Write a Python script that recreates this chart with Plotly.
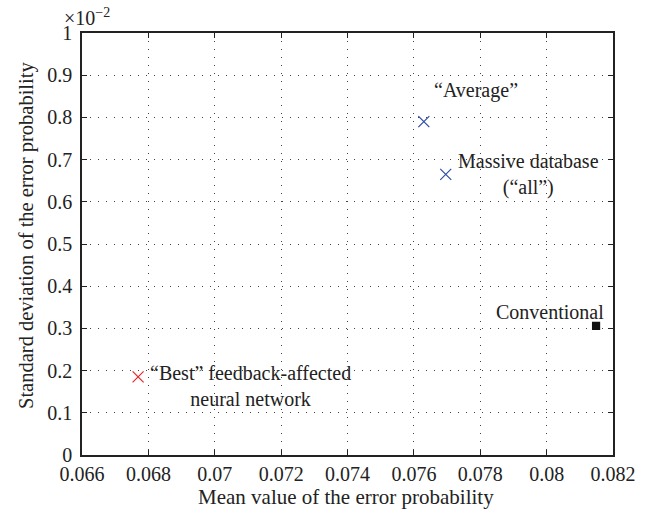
import plotly.graph_objects as go

# Data (y in units of 1e-2)
labels = ["“Best” feedback-affected<br>neural network", "“Average”", "Massive database<br>(“all”)", "Conventional"]
mean_err = [0.06769, 0.07630, 0.07696, 0.08149]
std_err = [0.185, 0.790, 0.665, 0.306]
colors = ["#e8262b", "#2f4ea6", "#2f4ea6", "#111111"]
symbols = ["x-thin", "x-thin", "x-thin", "square"]

x_ticks = [0.066, 0.068, 0.070, 0.072, 0.074, 0.076, 0.078, 0.080, 0.082]
x_ticktext = ["0.066", "0.068", "0.07", "0.072", "0.074", "0.076", "0.078", "0.08", "0.082"]
y_ticks = [0, 0.1, 0.2, 0.3, 0.4, 0.5, 0.6, 0.7, 0.8, 0.9, 1.0]
y_ticktext = ["0", "0.1", "0.2", "0.3", "0.4", "0.5", "0.6", "0.7", "0.8", "0.9", "1"]
x_title = "Mean value of the error probability"
y_title = "Standard deviation of the error probability"

FONT = "Liberation Serif"
TXT = "#222"
fig = go.Figure()
for i in range(len(labels)):
    sym = symbols[i]
    fig.add_trace(go.Scatter(
        x=[mean_err[i]], y=[std_err[i]], mode="markers",
        marker=dict(symbol=sym, size=11 if sym != "square" else 7, color=colors[i],
                    line=dict(width=1.2, color=colors[i])),
        showlegend=False, hoverinfo="skip"))

# text labels placement (offsets)
ann = [
    dict(xshift=10, yshift=-9, xanchor="left", yanchor="middle", align="center"),
    dict(xshift=8, yshift=31, xanchor="left", yanchor="middle", align="center"),
    dict(xshift=10, yshift=0, xanchor="left", yanchor="middle", align="center"),
    dict(xshift=10, yshift=14, xanchor="right", yanchor="middle", align="center"),
]
for i in range(len(labels)):
    fig.add_annotation(x=mean_err[i], y=std_err[i], text=labels[i], showarrow=False,
                       font=dict(family=FONT, size=20, color=TXT), **ann[i])

fig.add_annotation(xref="paper", yref="paper", x=0, y=1, text="×10<sup>−2</sup>",
                   showarrow=False, xanchor="left", yanchor="bottom", xshift=-20, yshift=2,
                   font=dict(family=FONT, size=20, color=TXT))

# axis titles
fig.add_annotation(xref="paper", yref="paper", x=0.497, y=0, yshift=-42, text=x_title,
                   showarrow=False, xanchor="center", yanchor="middle",
                   font=dict(family=FONT, size=21, color=TXT))
fig.add_annotation(xref="paper", yref="paper", x=0, y=0.519, xshift=-55, text=y_title,
                   showarrow=False, xanchor="center", yanchor="middle", textangle=-90,
                   font=dict(family=FONT, size=20.5, color=TXT))

axis_common = dict(showline=True, linecolor=TXT, linewidth=1.5, mirror="ticks",
                   ticks="inside", ticklen=5, tickcolor=TXT, showgrid=True,
                   gridcolor="#444", gridwidth=1, griddash="1px,7px", zeroline=False,
                   tickfont=dict(family=FONT, size=20, color=TXT))

fig.update_xaxes(range=[0.066, 0.082], tickvals=x_ticks, ticktext=x_ticktext, **axis_common)
fig.update_yaxes(range=[0, 1], tickvals=y_ticks, ticktext=y_ticktext,
                 ticklabelstandoff=4, **axis_common)

fig.update_layout(width=659, height=521, margin=dict(l=82, r=46, t=33, b=66),
                  plot_bgcolor="white", paper_bgcolor="white")
fig.write_html("out.html", config={"displayModeBar": False},
               post_script="document.body.style.margin='0';")
